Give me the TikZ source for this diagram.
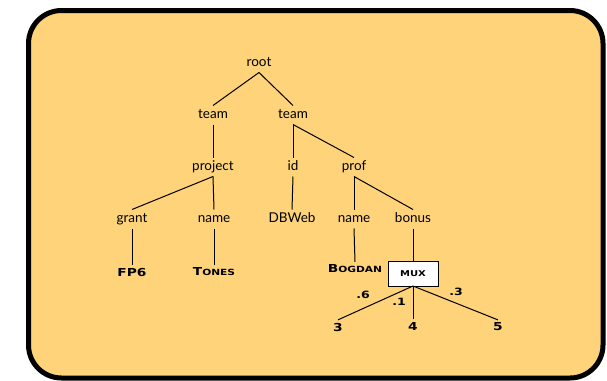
\documentclass[tikz,border=0pt]{standalone}
\usepackage{fontspec}
\setmainfont{Lato}
\newfontfamily\cpfont[FakeStretch=1.25]{DejaVu Sans}
\newcommand\fsc[2]{#1{\fontsize{8.5}{9}\selectfont #2}}
\definecolor{bg}{RGB}{254,211,122}
\begin{document}
\begin{tikzpicture}[x=1pt,y=-1pt,
  lbl/.style={font=\fontsize{13.5}{15}\selectfont, text height=9pt, text depth=3pt, inner sep=0pt, outer sep=3.5pt},
  val/.style={font=\cpfont\bfseries\fontsize{11}{12}\selectfont, inner sep=0pt, outer sep=3pt},
  prob/.style={font=\cpfont\bfseries\fontsize{10}{11}\selectfont, inner sep=0pt},
  muxbox/.style={draw, fill=white, line width=1pt, minimum width=50pt, minimum height=25pt, inner sep=0pt, outer sep=0pt, font=\cpfont\bfseries\fontsize{8}{9}\selectfont},
  edge/.style={line width=1pt}]
\useasboundingbox (0,0) rectangle (607,380);
\draw[line width=5pt, fill=bg, rounded corners=33pt] (28.5,10.5) rectangle (603,378);
% nodes
\node[lbl] (root) at (259,63) {root};
\node[lbl] (t1) at (213,115) {team};
\node[lbl] (t2) at (293,115) {team};
\node[lbl] (project) at (213,167) {project};
\node[lbl] (id) at (293,167) {id};
\node[lbl] (prof) at (354,167) {prof};
\node[lbl] (grant) at (132,219) {grant};
\node[lbl] (pname) at (214,219) {name};
\node[lbl] (dbweb) at (292,219) {DBWeb};
\node[lbl] (name2) at (354,219) {name};
\node[lbl] (bonus) at (413,219) {bonus};
\node[val] (fp6) at (132,272) {FP6};
\node[val] (tones) at (214,272) {\fsc{T}{ONES}};
\node[val] (bogdan) at (355,269) {\fsc{B}{OGDAN}};
\node[muxbox] (mux) at (413,273.5) {MUX};
\node[val] (n3) at (338,327) {3};
\node[val] (n4) at (413,326) {4};
\node[val] (n5) at (498,327) {5};
\node[prob] (p6) at (363,295) {.6};
\node[prob] (p1) at (399,302) {.1};
\node[prob] (p3) at (456,292) {.3};
% edges
\draw[edge] (root.south) -- (t1.north);
\draw[edge] (root.south) -- (t2.north);
\draw[edge] (t1.south) -- (project.north);
\draw[edge] (t2.south) -- (id.north);
\draw[edge] (t2.south) -- (prof.north);
\draw[edge] (project.south) -- (grant.north);
\draw[edge] (project.south) -- (pname.north);
\draw[edge] (id.south) -- (dbweb.north);
\draw[edge] (prof.south) -- (name2.north);
\draw[edge] (prof.south) -- (bonus.north);
\draw[edge] (grant.south) -- (fp6.north);
\draw[edge] (pname.south) -- (tones.north);
\draw[edge] (name2.south) -- (bogdan.north);
\draw[edge] (bonus.south) -- (mux.north);
\draw[edge] (mux.south) -- (n3.north);
\draw[edge] (mux.south) -- (n4.north);
\draw[edge] (mux.south) -- (n5.north);
\end{tikzpicture}
\end{document}
